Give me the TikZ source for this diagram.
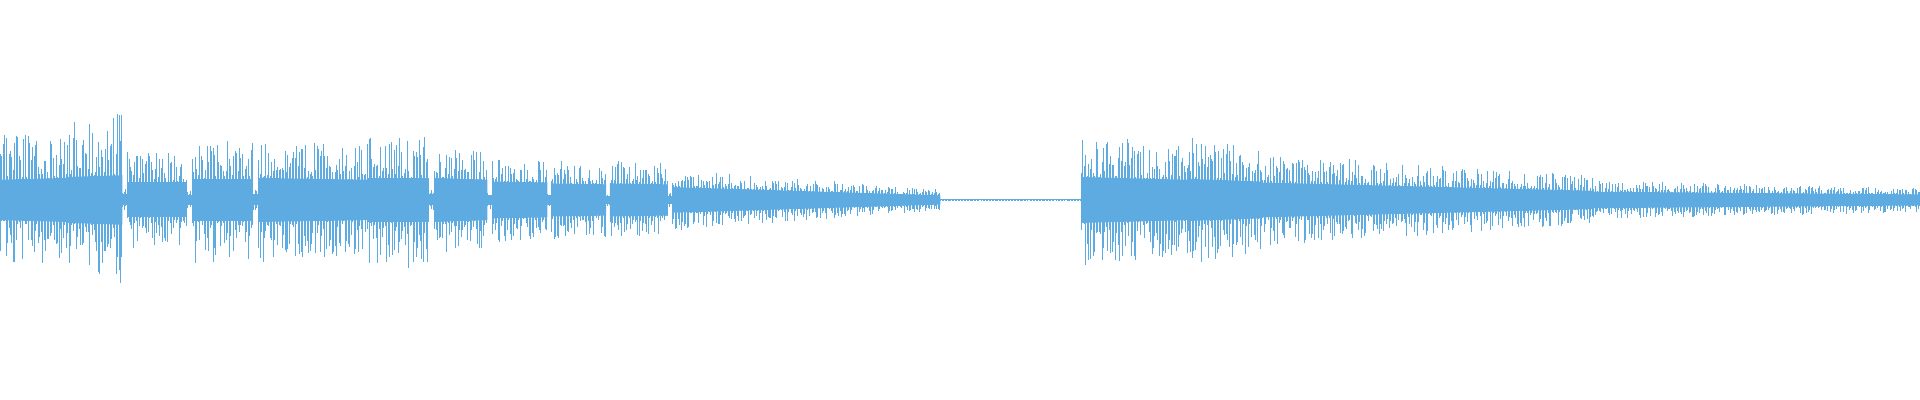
\documentclass[tikz,border=0pt]{standalone}
\definecolor{wavec}{RGB}{94,171,226}
\begin{document}
\begin{tikzpicture}[x=0.012245cm,y=0.012245cm,
  wave/.style={fill=wavec,draw=none},
  wl/.style={draw=wavec,line width=0.15pt}]
\useasboundingbox (0,-163.3) rectangle (1568,163.3);
\pgfmathsetseed{12345}
\foreach \a/\b/\ca/\cb/\sa/\sb in {
 0/55/22/24/55/50, 55/100/25/27/65/72, 100/104/6/6/10/10,
 104/152/19/19/40/38, 152/157/5/5/8/8,
 157/207/23/23/52/48, 207/211/6/6/9/9,
 211/300/24/22/52/44, 300/350/24/24/55/57, 350/355/6/6/9/9,
 355/398/24/22/44/40, 398/402/5/5/8/8,
 402/447/20/19/35/33, 447/450/5/5/7/7,
 450/495/18/17/32/30, 495/498/4/4/6/6,
 498/545/18/17/32/30, 545/549/4/4/6/6,
 549/768/14/5/25/9, 768/883/0.6/0.6/1/1,
 883/970/25/22/55/44, 970/1030/23/20/52/44,
 1030/1300/19/10/38/20, 1300/1568/9/6/16/10}{
 \fill[wave] (\a,-0.75*\ca) -- (\b,-0.75*\cb) -- (\b,0.75*\cb) -- (\a,0.75*\ca) -- cycle;
 \pgfmathsetmacro\st{\a+1.2}
 \foreach \x in {\a,\st,...,\b}{
   \pgfmathsetmacro\t{(\x-\a)/(\b-\a)}
   \pgfmathsetmacro\c{\ca+(\cb-\ca)*\t}
   \pgfmathsetmacro\s{\sa+(\sb-\sa)*\t}
   \pgfmathsetmacro\u{\c*0.75+rnd^1.3*(\s-\c*0.75)}
   \pgfmathsetmacro\l{\c*0.75+rnd^1.3*(\s-\c*0.75)}
   \draw[wl] (\x,\u) -- (\x,-\l);
 }}
\end{tikzpicture}
\end{document}
